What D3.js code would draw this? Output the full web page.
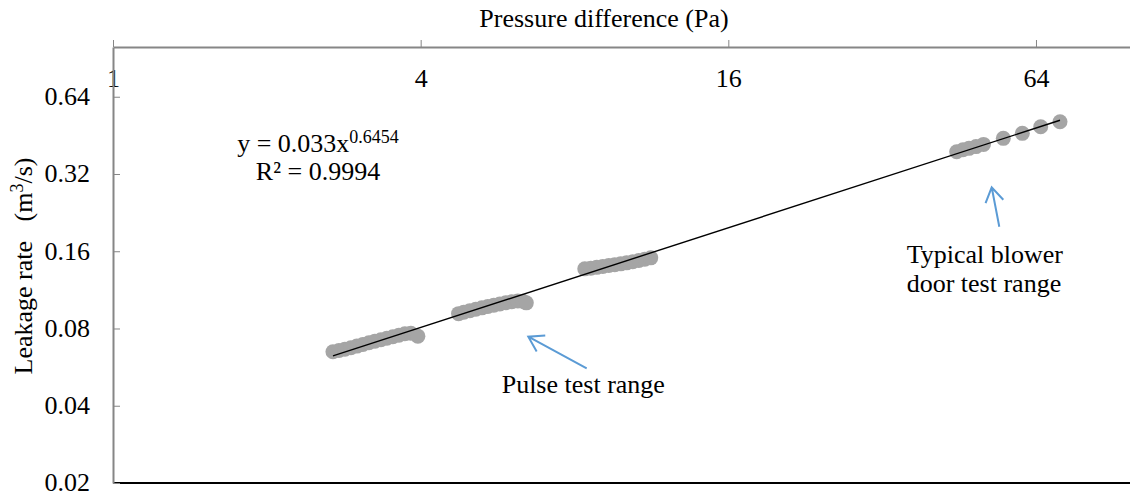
<!DOCTYPE html>
<html>
<head>
<meta charset="utf-8">
<script src="https://cdn.jsdelivr.net/npm/d3@7"></script>
<style>
  body { margin: 0; background: #fff; }
  text { font-family: "Liberation Serif", "Times New Roman", serif; fill: #000; }
  .axis path, .axis line { stroke: #868686; }
</style>
</head>
<body>
<svg id="chart" width="1130" height="497"></svg>
<script>
// pressure difference (Pa) / leakage rate (m3/s)
const pulseLowDp  = [2.694, 2.768, 2.843, 2.921, 3.001, 3.083, 3.168, 3.255, 3.344, 3.435, 3.529, 3.626, 3.725, 3.827, 3.950];
const pulseLowQ   = [0.0649, 0.0657, 0.0664, 0.0673, 0.0683, 0.0693, 0.0704, 0.0714, 0.0723, 0.0733, 0.0743, 0.0753, 0.0763, 0.0767, 0.0747];
const pulseMidDp  = [4.745, 4.859, 4.992, 5.129, 5.270, 5.414, 5.562, 5.714, 5.871, 6.032, 6.197, 6.338, 6.439];
const pulseMidQ   = [0.0914, 0.0926, 0.0939, 0.0951, 0.0963, 0.0975, 0.0986, 0.0997, 0.1008, 0.1017, 0.1024, 0.1022, 0.1007];
const pulseHighDp = [8.380, 8.610, 8.845, 9.087, 9.337, 9.592, 9.854, 10.12, 10.40, 10.69, 10.98, 11.28];
const pulseHighQ  = [0.1366, 0.1375, 0.1385, 0.1396, 0.1407, 0.1417, 0.1429, 0.1442, 0.1456, 0.1472, 0.1489, 0.1508];
const blowerDp    = [44.77, 46.06, 47.33, 48.85, 50.52, 55.24, 60.18, 65.38, 71.32];
const blowerQ     = [0.3906, 0.3977, 0.4027, 0.4092, 0.4174, 0.4405, 0.4608, 0.4889, 0.5114];

// power-law fit printed on the chart
const trendA = 0.033;
const trendB = 0.6454;

const xTicks = [1, 4, 16, 64];
const yTicks = [0.02, 0.04, 0.08, 0.16, 0.32, 0.64];

const svg = d3.select("#chart");
const W = 1130;
const mLeft = 113, mTop = 47, mBottom = 483;
const oct = 153.83; // px per doubling of pressure

const x = d3.scaleLog().base(2).domain([1, 128]).range([mLeft, mLeft + 7 * oct]);
const y = d3.scaleLog().base(2).domain([0.02, 1]).range([mBottom, mTop]);

const pts = [];
[[pulseLowDp, pulseLowQ], [pulseMidDp, pulseMidQ], [pulseHighDp, pulseHighQ], [blowerDp, blowerQ]]
  .forEach(([dp, q]) => dp.forEach((v, i) => pts.push({dp: v, q: q[i]})));

// bottom border line
svg.append("line")
  .attr("x1", mLeft).attr("x2", W)
  .attr("y1", mBottom).attr("y2", mBottom)
  .attr("stroke", "#000").attr("stroke-width", 2);

// top x axis, labels sit under the line
const xAxisG = svg.append("g")
  .attr("class", "axis")
  .attr("transform", `translate(0,${mTop})`)
  .call(d3.axisTop(x).tickValues(xTicks).tickSizeInner(7).tickSizeOuter(0).tickFormat(d3.format("d")));
xAxisG.select(".domain").attr("stroke-width", 2);
xAxisG.selectAll("text")
  .attr("y", 39.7).attr("dy", 0)
  .style("font-size", "26px").style("font-family", "Liberation Serif");

// left y axis, ticks point inward
const yAxisG = svg.append("g")
  .attr("class", "axis")
  .attr("transform", `translate(${mLeft},0)`)
  .call(d3.axisLeft(y).tickValues(yTicks).tickSizeInner(-7).tickSizeOuter(0).tickFormat(d3.format(".2f")));
yAxisG.select(".domain").attr("stroke-width", 2);
yAxisG.selectAll("text")
  .attr("x", -23).attr("dy", "0.3em")
  .style("font-size", "26px").style("font-family", "Liberation Serif");

// axis titles
svg.append("text")
  .attr("x", 604).attr("y", 26.7)
  .attr("text-anchor", "middle")
  .style("font-size", "26px")
  .text("Pressure difference (Pa)");

const yTitle = svg.append("text")
  .attr("transform", "translate(32,266) rotate(-90)")
  .attr("text-anchor", "middle")
  .style("font-size", "26px")
  .style("white-space", "pre");
yTitle.append("tspan").text("Leakage rate   (m");
yTitle.append("tspan").attr("dy", -9).style("font-size", "18px").text("3");
yTitle.append("tspan").attr("dy", 9).text("/s)");

// measured points
svg.append("g").selectAll("circle").data(pts)
  .enter().append("circle")
  .attr("cx", d => x(d.dp))
  .attr("cy", d => y(d.q))
  .attr("r", 7.5)
  .attr("fill", "#a5a5a5");

// power trendline
const ext = d3.extent(pts, d => d.dp);
const line = d3.line()
  .x(d => x(d))
  .y(d => y(trendA * Math.pow(d, trendB)));
svg.append("path")
  .attr("d", line(ext))
  .attr("fill", "none")
  .attr("stroke", "#000")
  .attr("stroke-width", 1.4);

// fit equation
const eq = svg.append("text")
  .attr("x", 318).attr("y", 151.7)
  .attr("text-anchor", "middle")
  .style("font-size", "26px");
eq.append("tspan").text("y = 0.033x");
eq.append("tspan").attr("dy", -9).style("font-size", "18px").text("0.6454");
svg.append("text")
  .attr("x", 318).attr("y", 180)
  .attr("text-anchor", "middle")
  .style("font-size", "26px")
  .text("R² = 0.9994");

// annotations
function arrow(x1, y1, x2, y2) {
  const a = Math.atan2(y1 - y2, x1 - x2), len = 17, spread = 0.56;
  const p = d3.path();
  p.moveTo(x1, y1); p.lineTo(x2, y2);
  p.moveTo(x2 + len * Math.cos(a - spread), y2 + len * Math.sin(a - spread));
  p.lineTo(x2, y2);
  p.lineTo(x2 + len * Math.cos(a + spread), y2 + len * Math.sin(a + spread));
  svg.append("path").attr("d", p.toString())
    .attr("fill", "none").attr("stroke", "#5b9bd5").attr("stroke-width", 2);
}
arrow(586.7, 368.3, 528.3, 336.7);
arrow(999.3, 226.7, 991.7, 187.3);

svg.append("text").attr("x", 501.7).attr("y", 393).style("font-size", "26px").text("Pulse test range");
svg.append("text").attr("x", 906.7).attr("y", 263.3).style("font-size", "26px").text("Typical blower");
svg.append("text").attr("x", 906.7).attr("y", 291.7).style("font-size", "26px").text("door test range");
</script>
</body>
</html>
